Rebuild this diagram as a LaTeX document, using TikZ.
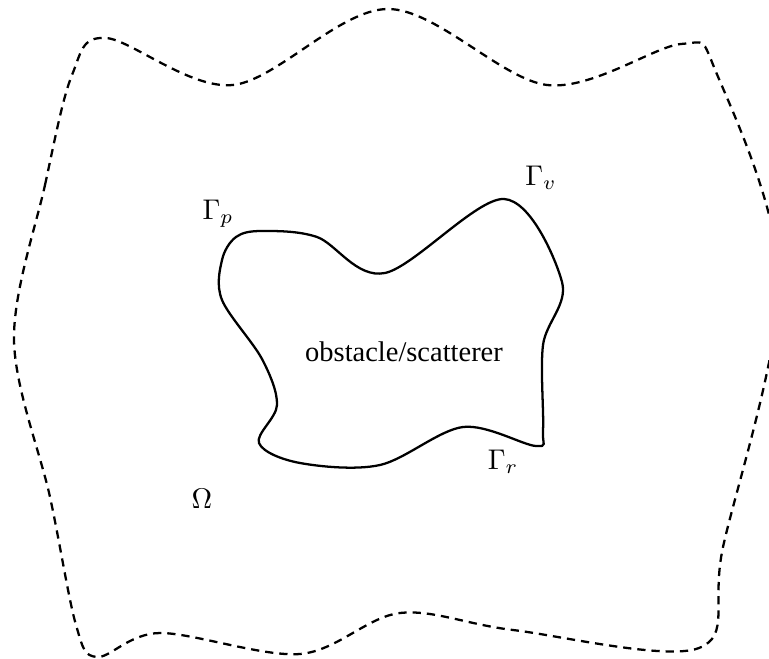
\documentclass[tikz,border=0pt]{standalone}
\usepackage{fontspec}
\setmainfont{Liberation Serif}
\usetikzlibrary{positioning}

\begin{document}
\begin{tikzpicture}[x=0.01234cm, y=-0.01234cm,
    domainline/.style={line width=0.8pt, dash pattern=on 2.9pt off 2.1pt},
    obstacleline/.style={line width=0.8pt},
    lbl/.style={inner sep=1pt, font=\normalsize}]
  \useasboundingbox (0,0) rectangle (769,659);

  % Outer domain boundary
  \draw[domainline] plot[smooth cycle, tension=0.55] coordinates {
    (14,340) (45,185) (72,75) (106,38) (233,85) (388,9) (547,85)
    (681,44) (716,72) (779,280) (723,547) (699,648) (513,630) (400,613)
    (300,654) (160,633) (97,657) (76,625) (50,497)};

  % Obstacle / scatterer
  \draw[obstacleline] plot[smooth cycle, tension=0.55] coordinates {
    (262,231) (317,237) (385,273) (504,199) (562,282) (543,345)
    (543,430) (536,446) (463,427) (380,465) (300,463) (259,443) (277,405)
    (262,359) (222,300) (222,260) (236,237)};

  % Labels
  \node[lbl] (obs) at (404,352) {obstacle/scatterer};
  \node[lbl] (Gp) at (218,214) {$\Gamma_p$};
  \node[lbl] (Gv) at (541,178) {$\Gamma_v$};
  \node[lbl] (Gr) at (503,462) {$\Gamma_r$};
  \node[lbl] (Om) at (202,499) {$\Omega$};
\end{tikzpicture}
\end{document}
